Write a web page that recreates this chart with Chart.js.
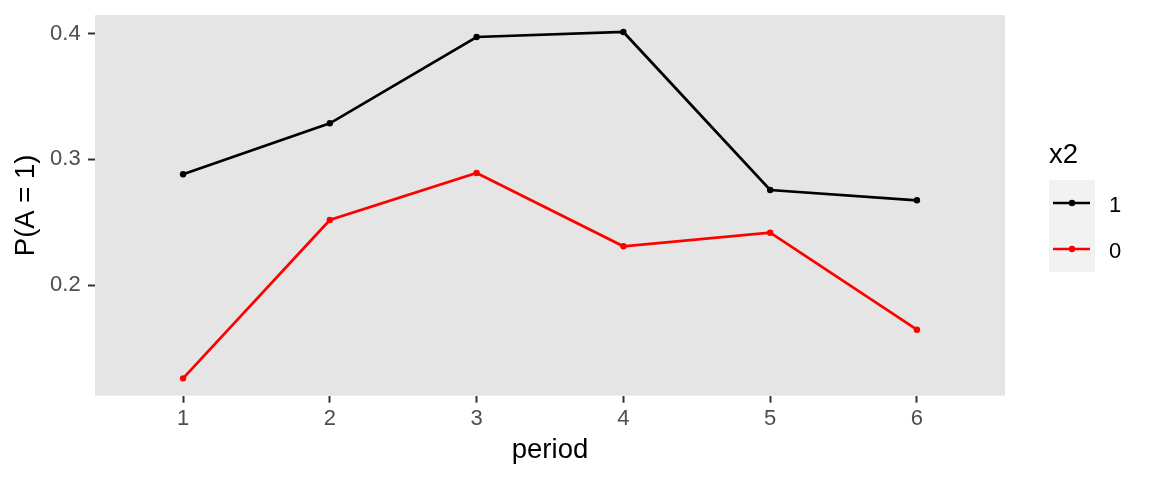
<!DOCTYPE html>
<html>
<head>
<meta charset="utf-8">
<script src="https://cdn.jsdelivr.net/npm/chart.js@4/dist/chart.umd.min.js"></script>
<style>
  html, body { margin: 0; padding: 0; background: #ffffff; }
  #wrap { width: 1152px; height: 480px; position: relative; }
</style>
</head>
<body>
<div id="wrap"><canvas id="c" width="1152" height="480"></canvas></div>
<script>
// ---- data ----
const periods = [1, 2, 3, 4, 5, 6];
const legendTitle = "x2";
const seriesLabels = ["1", "0"];
const seriesColors = ["#000000", "#FF0000"];
const valuesX2_1 = [0.2881, 0.3287, 0.3974, 0.4014, 0.2756, 0.2674];
const valuesX2_0 = [0.1257, 0.2517, 0.2891, 0.2308, 0.2416, 0.1644];
const yTicks = [0.2, 0.3, 0.4];
const xTicks = [1, 2, 3, 4, 5, 6];
const xTitle = "period";
const yTitle = "P(A = 1)";

const FONT = "'Liberation Sans', Arial, Helvetica, sans-serif";

function toPoints(vals) { return periods.map((p, i) => ({ x: p, y: vals[i] })); }

const panelBg = {
  id: 'panelBg',
  beforeDraw(chart) {
    const { ctx, chartArea: a } = chart;
    ctx.save();
    ctx.fillStyle = '#E5E5E5';
    ctx.fillRect(a.left, a.top, a.right - a.left, a.bottom - a.top);
    ctx.restore();
  }
};

const ggLegend = {
  id: 'ggLegend',
  afterDraw(chart) {
    const { ctx } = chart;
    ctx.save();
    ctx.fillStyle = '#000000';
    ctx.font = "27.5px " + FONT;
    ctx.textAlign = 'left';
    ctx.textBaseline = 'alphabetic';
    ctx.fillText(legendTitle, 1049, 163.3);
    const keyX = 1049, keyW = 46, keyH = 46, keyTop = 180;
    chart.data.datasets.forEach((ds, i) => {
      const top = keyTop + i * keyH;
      const cy = top + keyH / 2;
      ctx.fillStyle = '#F2F2F2';
      ctx.fillRect(keyX, top, keyW, keyH);
      ctx.strokeStyle = ds.borderColor;
      ctx.lineWidth = 2.7;
      ctx.beginPath();
      ctx.moveTo(keyX + 4, cy);
      ctx.lineTo(keyX + keyW - 5, cy);
      ctx.stroke();
      ctx.fillStyle = ds.borderColor;
      ctx.beginPath();
      ctx.arc(keyX + keyW / 2, cy, 3.2, 0, Math.PI * 2);
      ctx.fill();
      ctx.fillStyle = '#000000';
      ctx.font = "22px " + FONT;
      ctx.fillText(ds.label, 1109, cy + 8.5);
    });
    ctx.restore();
  }
};

new Chart(document.getElementById('c'), {
  type: 'line',
  data: {
    datasets: [
      { label: seriesLabels[0], data: toPoints(valuesX2_1), borderColor: seriesColors[0], backgroundColor: seriesColors[0] },
      { label: seriesLabels[1], data: toPoints(valuesX2_0), borderColor: seriesColors[1], backgroundColor: seriesColors[1] }
    ]
  },
  options: {
    responsive: false,
    animation: false,
    devicePixelRatio: 1,
    layout: { padding: { top: 15, right: 147, left: 0, bottom: 0 } },
    elements: {
      line: { borderWidth: 2.7, tension: 0 },
      point: { radius: 3.2, borderWidth: 0, hoverRadius: 3.2 }
    },
    plugins: {
      legend: { display: false },
      tooltip: { enabled: false }
    },
    scales: {
      x: {
        type: 'linear',
        min: 0.4,
        max: 6.6,
        afterBuildTicks(scale) { scale.ticks = xTicks.map(v => ({ value: v })); },
        afterFit(scale) { scale.height = 84.3; scale.paddingLeft = 0; scale.paddingRight = 0; },
        border: { display: false },
        grid: { drawOnChartArea: false, drawTicks: true, tickLength: 7, tickColor: '#333333', tickWidth: 2 },
        ticks: {
          color: '#4D4D4D',
          font: { family: FONT, size: 22, lineHeight: 1.2 },
          padding: 3,
          maxRotation: 0,
          autoSkip: false,
          callback: v => String(v)
        },
        title: {
          display: true,
          text: xTitle,
          color: '#000000',
          font: { family: FONT, size: 27.5, lineHeight: 1 },
          padding: { top: 0, bottom: 15.75 }
        }
      },
      y: {
        type: 'linear',
        min: 0.1119,
        max: 0.4149,
        afterBuildTicks(scale) { scale.ticks = yTicks.map(v => ({ value: v })); },
        afterFit(scale) { scale.width = 95; scale.paddingTop = 0; scale.paddingBottom = 0; },
        border: { display: false },
        grid: { drawOnChartArea: false, drawTicks: true, tickLength: 7, tickColor: '#333333', tickWidth: 2 },
        ticks: {
          color: '#4D4D4D',
          font: { family: FONT, size: 22, lineHeight: 1.2 },
          padding: 7.3,
          autoSkip: false,
          callback: v => v.toFixed(1)
        },
        title: {
          display: true,
          text: yTitle,
          color: '#000000',
          font: { family: FONT, size: 27.5, lineHeight: 1 },
          padding: { top: 12.75, bottom: 0 }
        }
      }
    }
  },
  plugins: [panelBg, ggLegend]
});
</script>
</body>
</html>
